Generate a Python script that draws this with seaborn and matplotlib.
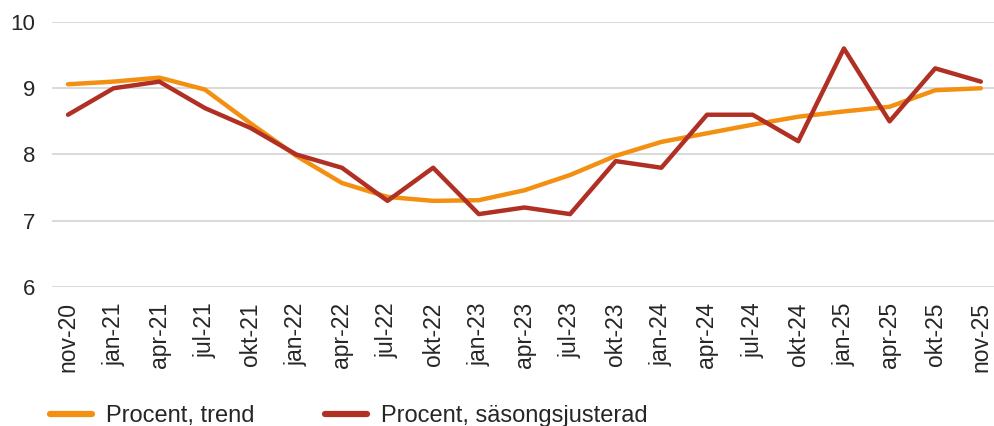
import numpy as np
import pandas as pd
import matplotlib
matplotlib.use("Agg")
import matplotlib.pyplot as plt
import seaborn as sns

# Data
months = ["nov-20", "jan-21", "apr-21", "jul-21", "okt-21", "jan-22", "apr-22",
          "jul-22", "okt-22", "jan-23", "apr-23", "jul-23", "okt-23", "jan-24",
          "apr-24", "jul-24", "okt-24", "jan-25", "apr-25", "okt-25", "nov-25"]
trend = [9.06, 9.10, 9.16, 8.98, 8.47, 7.98, 7.57, 7.36, 7.30, 7.31, 7.46,
         7.69, 7.98, 8.19, 8.32, 8.45, 8.57, 8.65, 8.72, 8.97, 9.00]
sasong = [8.6, 9.0, 9.1, 8.7, 8.4, 8.0, 7.8, 7.3, 7.8, 7.1, 7.2,
          7.1, 7.9, 7.8, 8.6, 8.6, 8.2, 9.6, 8.5, 9.3, 9.1]
series_names = ["Procent, trend", "Procent, säsongsjusterad"]
colors = ["#F39012", "#B03024"]

sns.set_style("white")
plt.rcParams['font.family'] = ['Liberation Sans', 'DejaVu Sans']

pos = np.arange(len(months))
df = pd.DataFrame({
    "pos": np.concatenate([pos, pos]),
    "value": trend + sasong,
    "serie": [series_names[0]] * len(months) + [series_names[1]] * len(months),
})

fig = plt.figure(figsize=(9.95, 4.26), dpi=100)
ax = fig.add_axes([0.0523, 0.3263, 0.9477, 0.6221])

sns.lineplot(data=df, x="pos", y="value", hue="serie", palette=colors,
             linewidth=3.2, ax=ax, legend=False, sort=False)

ax.set_ylim(6, 10)
ax.set_yticks([6, 7, 8, 9, 10])
ax.set_xlim(-0.35, len(months) - 1 + 0.31)
ax.set_xticks(pos)
ax.set_xticklabels(months, rotation=90, fontsize=16.5)
ax.tick_params(axis='y', labelsize=16, length=0, pad=12)
ax.tick_params(axis='x', length=0, pad=11)
ax.set_xlabel("")
ax.set_ylabel("")
ax.grid(axis='y', color="#d9d9d9", linewidth=1.4)
ax.grid(axis='x', visible=False)
for s in ax.spines.values():
    s.set_visible(False)

# legend below the plot
handles = [plt.Line2D([], [], color=c, linewidth=4.5, solid_capstyle='round') for c in colors]
fig.legend(handles, series_names, loc='center left', bbox_to_anchor=(0.0503, 1 - 416 / 426),
           ncol=2, frameon=False, handlelength=1.78, handletextpad=0.6,
           columnspacing=2.97, borderpad=0, borderaxespad=0,
           prop={'family': ['Liberation Sans', 'DejaVu Sans'], 'size': 17})

fig.savefig("out.png", dpi=100)
